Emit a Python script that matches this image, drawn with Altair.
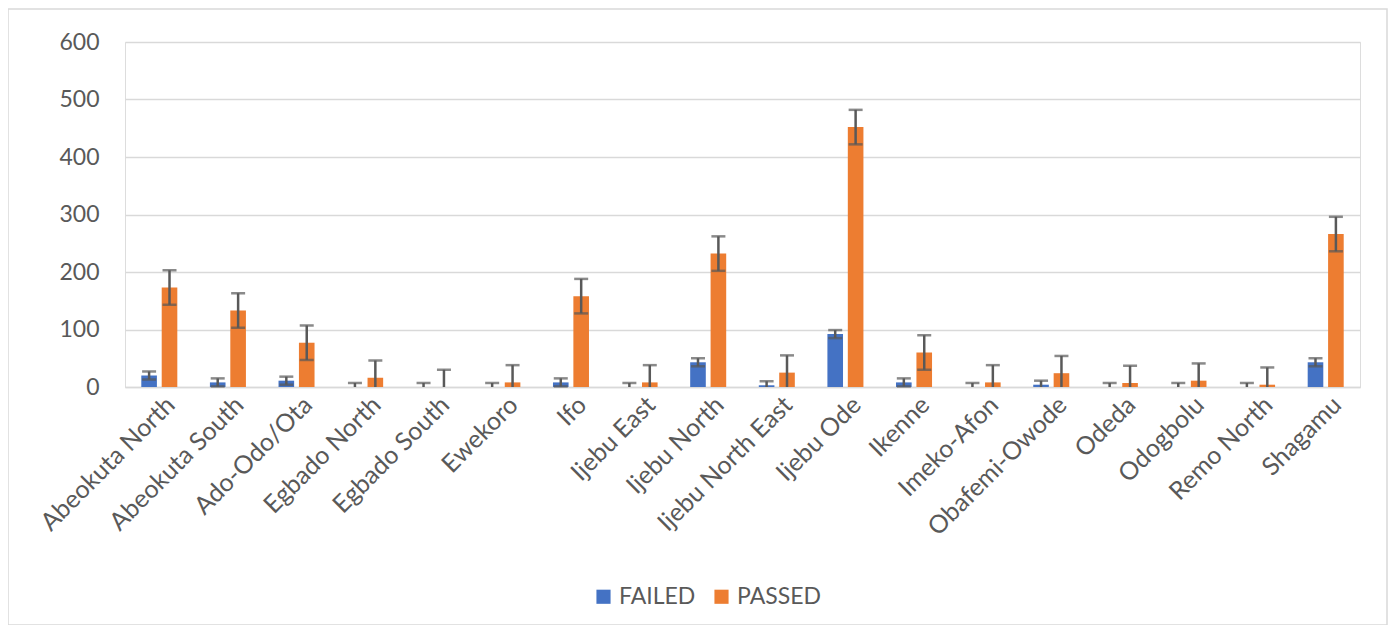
import altair as alt
import pandas as pd

districts = ["Abeokuta North", "Abeokuta South", "Ado-Odo/Ota", "Egbado North",
             "Egbado South", "Ewekoro", "Ifo", "Ijebu East", "Ijebu North",
             "Ijebu North East", "Ijebu Ode", "Ikenne", "Imeko-Afon",
             "Obafemi-Owode", "Odeda", "Odogbolu", "Remo North", "Shagamu"]
failed = [20, 8, 11, 0, 0, 0, 8, 0, 43, 3, 92, 8, 0, 4, 0, 0, 0, 43]
passed = [173, 133, 77, 16, 0, 8, 158, 8, 232, 25, 452, 60, 8, 24, 7, 11, 4, 266]
failed_err = 7
passed_err = 30
statuses = ["FAILED", "PASSED"]
colors = ["#4472C4", "#ED7D31"]

rows = []
for d, f, p in zip(districts, failed, passed):
    for s, v, e in (("FAILED", f, failed_err), ("PASSED", p, passed_err)):
        rows.append({"district": d, "status": s, "value": v,
                     "hi": v + e, "lo": max(0, v - e), "locap": (v - e) >= 0})
df = pd.DataFrame(rows)

font = "Lato"
gray = "#595959"

x_enc = alt.X("district:N", sort=districts, title=None,
              scale=alt.Scale(paddingInner=0.475, paddingOuter=0.2375),
              axis=alt.Axis(labelAngle=-45, labelFontSize=25, labelColor=gray,
                            labelFont=font, ticks=False, labelPadding=5,
                            labelOffset=3, labelLimit=400,
                            domainColor="#d9d9d9", domainWidth=1.5))
xo_enc = alt.XOffset("status:N", sort=statuses,
                     scale=alt.Scale(paddingInner=0.235, paddingOuter=0))

base = alt.Chart(df)

bars = base.mark_bar().encode(
    x=x_enc,
    xOffset=xo_enc,
    y=alt.Y("value:Q", title=None,
            scale=alt.Scale(domain=[0, 600], nice=False),
            axis=alt.Axis(values=[0, 100, 200, 300, 400, 500, 600],
                          labelFontSize=23, labelColor=gray, labelFont=font,
                          ticks=False, tickSize=0, domain=False, labelPadding=26,
                          gridColor="#d9d9d9", gridWidth=1.5)),
    color=alt.Color("status:N", sort=statuses,
                    scale=alt.Scale(domain=statuses, range=colors),
                    legend=alt.Legend(title=None, orient="none", direction="horizontal",
                                      legendX=467, legendY=543,
                                      symbolType="square", symbolSize=200,
                                      symbolStrokeWidth=0,
                                      labelFontSize=23, labelColor=gray,
                                      labelFont=font, columnPadding=14,
                                      symbolOffset=0)),
)

err = base.mark_rule(color=gray, strokeWidth=2.5).encode(
    x=alt.X("district:N", sort=districts),
    xOffset=xo_enc,
    y="hi:Q",
    y2="lo:Q",
)

cap_hi = base.mark_tick(color=gray, thickness=2.5, size=14).encode(
    x=alt.X("district:N", sort=districts),
    xOffset=xo_enc,
    y="hi:Q",
)

cap_lo = base.transform_filter("datum.locap").mark_tick(
    color=gray, thickness=2.5, size=14).encode(
    x=alt.X("district:N", sort=districts),
    xOffset=xo_enc,
    y="lo:Q",
)

frame = alt.Chart(pd.DataFrame({"a": [0]})).mark_rect(
    fill="transparent", stroke="#d9d9d9", strokeWidth=1.5).encode(
    x=alt.value(-117), x2=alt.value(1262), y=alt.value(-33), y2=alt.value(583))

chart = alt.layer(frame, bars, err, cap_hi, cap_lo).properties(
    width=1235, height=345,
    autosize=alt.AutoSizeParams(type="none"),
    padding={"left": 117, "top": 34, "right": 28, "bottom": 238},
).configure_view(stroke=None).configure(background="white")

chart.save("out.html", embed_options={"renderer": "svg", "actions": False})
